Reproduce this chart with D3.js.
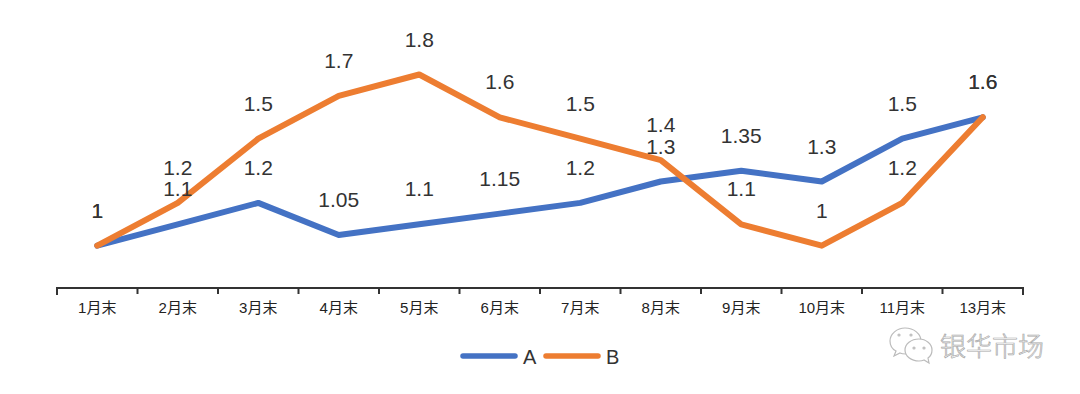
<!DOCTYPE html>
<html lang="zh">
<head>
  <meta charset="UTF-8">
  <title>A B</title>
  <style>
    html, body { margin: 0; padding: 0; background: #fff; }
    svg { display: block; }
    text { font-family: "Liberation Sans", "Noto Sans CJK SC", sans-serif; fill: #333; }
    .axis text { font-size: 15px; fill: #222; }
    .axis path, .axis line { stroke: #333; stroke-width: 2; }
    .lab { font-size: 21px; text-anchor: middle; }
    .series { fill: none; stroke-width: 6; stroke-linejoin: round; stroke-linecap: round; }
  </style>
</head>
<body>
  <svg id="chart" width="1080" height="394"></svg>
  <script src="https://d3js.org/d3.v7.min.js"></script>
  <script>
    const months = ['1月末','2月末','3月末','4月末','5月末','6月末','7月末','8月末','9月末','10月末','11月末','13月末'];
    const seriesA = [1,1.1,1.2,1.05,1.1,1.15,1.2,1.3,1.35,1.3,1.5,1.6];
    const seriesB = [1,1.2,1.5,1.7,1.8,1.6,1.5,1.4,1.1,1,1.2,1.6];
    const seriesNames = ['A','B'];
    const colors = ['#4472c4','#ed7d31'];

    const svg = d3.select('#chart');
    const scaleX = d3.scaleBand().domain(months).range([57,1023]);
    const scaleY = d3.scaleLinear().domain([0.8,1.8]).range([288.5,74.5]);

    // axis, ticks sit on the band edges
    const axisG = svg.append('g').attr('class','axis').attr('transform','translate(0,288)');
    axisG.append('path').attr('d','M57,7V0H1023V7').attr('fill','none');
    axisG.selectAll('line').data(months.slice(1)).enter().append('line')
      .attr('x1',d=>scaleX(d)).attr('x2',d=>scaleX(d)).attr('y1',0).attr('y2',6);
    axisG.selectAll('text').data(months).enter().append('text')
      .attr('x',d=>scaleX(d)+scaleX.bandwidth()/2).attr('y',25).attr('text-anchor','middle').text(d=>d);

    const line = d3.line()
      .x((d,i)=>scaleX(months[i])+scaleX.bandwidth()/2)
      .y(d=>scaleY(d));

    [seriesA,seriesB].forEach((vals,k)=>{
      svg.append('path').attr('class','series').attr('d',line(vals)).attr('stroke',colors[k]);
    });

    // labels go on top of both lines
    [seriesA,seriesB].forEach(vals=>{
      svg.append('g').selectAll('text').data(vals).enter().append('text')
        .attr('class','lab')
        .attr('x',(d,i)=>scaleX(months[i])+scaleX.bandwidth()/2)
        .attr('y',d=>scaleY(d)-28)
        .text(d=>d);
    });

    // legend
    const legend = svg.append('g');
    [[463,523],[546,606]].forEach((p,k)=>{
      legend.append('line').attr('x1',p[0]).attr('x2',p[0]+52).attr('y1',356).attr('y2',356)
        .attr('stroke',colors[k]).attr('stroke-width',5.5).attr('stroke-linecap','round');
      legend.append('text').attr('x',p[1]).attr('y',364).attr('font-size',20).text(seriesNames[k]);
    });

    // watermark
    const wm = svg.append('g').attr('fill','#fff').attr('stroke','#bbb').attr('stroke-width',1.2);
    wm.append('path').attr('d','M905,328c-8,0-15,6-15,13c0,4 2,8 6,10l-2,5l6,-3c2,1 4,1 6,1c8,0 15,-6 15,-13c0,-7-7,-13-16,-13z');
    wm.append('path').attr('d','M919,339c-8,0-14,5-14,11c0,6 6,11 14,11c1,0 3,0 5,-1l5,3l-1,-5c3,-2 4,-5 4,-8c0,-6-6,-11-13,-11z');
    wm.selectAll('circle').data([[899,335],[911,335],[914,348],[924,348]]).enter().append('circle')
      .attr('cx',d=>d[0]).attr('cy',d=>d[1]).attr('r',1);
    svg.append('text').attr('x',940).attr('y',356).attr('font-size',26)
      .style('font-family','"Noto Sans CJK SC"').style('font-weight',300)
      .style('fill','#fff').attr('stroke','#a8a8a8').attr('stroke-width',0.7).text('银华市场');
  </script>
</body>
</html>
